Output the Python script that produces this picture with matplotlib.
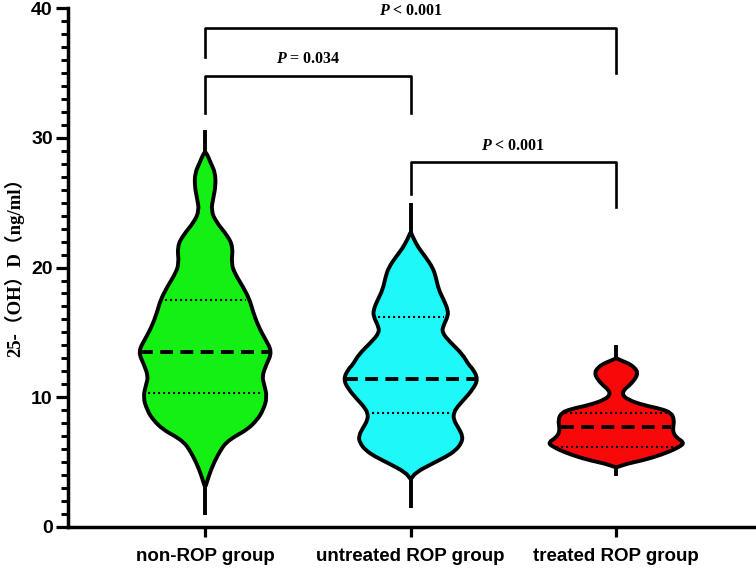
import matplotlib.pyplot as plt
from matplotlib.path import Path
from matplotlib.patches import PathPatch
from matplotlib.ticker import MultipleLocator
import numpy as np

plt.rcParams['mathtext.fontset'] = 'custom'
plt.rcParams['mathtext.rm'] = 'Liberation Serif'
plt.rcParams['mathtext.bfit'] = 'Liberation Serif:italic:bold'

groups = ['non-ROP group', 'untreated ROP group', 'treated ROP group']
colors = ['#14F014', '#1EF8F8', '#F80808']

# violin outlines: y value and half width (x units)
green_y = [3.1, 4.0, 5.0, 6.0, 6.5, 7.0, 7.5, 8.25, 9.0, 10.0, 11.0, 11.6, 12.5, 13.5,
           14.5, 15.5, 16.7, 17.5, 18.5, 19.5, 20.3, 21.6, 22.5, 23.5, 24.4, 25.3, 26.3,
           27.3, 28.0, 28.9]
green_w = [0.002, 0.019, 0.044, 0.078, 0.102, 0.146, 0.204, 0.253, 0.282, 0.302, 0.287,
           0.277, 0.297, 0.326, 0.292, 0.258, 0.231, 0.217, 0.185, 0.146, 0.127, 0.136,
           0.107, 0.054, 0.029, 0.039, 0.051, 0.049, 0.029, 0.005]
cyan_y = [3.7, 4.2, 4.9, 5.4, 5.9, 6.5, 7.0, 7.6, 8.25, 8.8, 9.3, 9.8, 10.6, 11.4, 12.2,
          12.5, 13.3, 14.2, 15.0, 15.6, 16.2, 16.7, 17.5, 18.3, 19.3, 20.0, 20.8, 21.5,
          22.2, 22.7]
cyan_w = [0.002, 0.024, 0.107, 0.170, 0.219, 0.248, 0.253, 0.234, 0.209, 0.209, 0.229,
          0.258, 0.302, 0.328, 0.302, 0.282, 0.253, 0.195, 0.151, 0.161, 0.180, 0.182,
          0.161, 0.136, 0.122, 0.107, 0.073, 0.039, 0.015, 0.002]
red_y = [4.6, 4.9, 5.2, 5.7, 6.2, 6.5, 6.9, 7.3, 7.7, 8.25, 8.8, 9.1, 9.4, 9.8, 10.2,
         10.6, 10.9, 11.4, 11.9, 12.3, 12.6, 12.8, 13.0]
red_w = [0.002, 0.058, 0.146, 0.243, 0.311, 0.331, 0.292, 0.277, 0.277, 0.282, 0.268,
         0.219, 0.131, 0.058, 0.029, 0.039, 0.063, 0.092, 0.106, 0.088, 0.061, 0.029,
         0.002]
tails = [(0.9, 30.6), (1.5, 25.0), (3.9, 14.0)]

medians = [13.5, 11.4, 7.7]
q1 = [10.3, 8.8, 6.2]
q3 = [17.5, 16.2, 8.8]

# significance brackets: (left group, right group, top, left leg end, right leg end, label)
brackets = [(0, 2, 38.45, 36.2, 35.0, r'$\mathbfit{P}$ < 0.001'),
            (0, 1, 34.8, 31.9, 31.9, r'$\mathbfit{P}$ = 0.034'),
            (1, 2, 28.1, 25.7, 24.7, r'$\mathbfit{P}$ < 0.001')]

profiles = [(green_y, green_w), (cyan_y, cyan_w), (red_y, red_w)]

fig = plt.figure(figsize=(7.56, 5.81), dpi=100)
ax = fig.add_axes([0.090, 0.093, 0.910, 0.893])

lw = 2.8
for i, (ys, ws) in enumerate(profiles):
    ys = np.array(ys)
    ws = np.array(ws)
    pts = [(i + w, y) for y, w in zip(ys, ws)] + [(i - w, y) for y, w in zip(ys[::-1], ws[::-1])]
    n = len(pts)
    start = ((pts[-1][0] + pts[0][0]) / 2, (pts[-1][1] + pts[0][1]) / 2)
    verts = [start]
    codes = [Path.MOVETO]
    for k in range(n):
        p = pts[k]
        q = pts[(k + 1) % n]
        verts += [p, ((p[0] + q[0]) / 2, (p[1] + q[1]) / 2)]
        codes += [Path.CURVE3, Path.CURVE3]
    ax.add_patch(PathPatch(Path(verts, codes), facecolor=colors[i], edgecolor='black',
                           lw=lw, joinstyle='round', zorder=2))
    ax.plot([i, i], [tails[i][0], ys[0]], color='black', lw=lw, solid_capstyle='butt', zorder=2)
    ax.plot([i, i], [ys[-1], tails[i][1]], color='black', lw=lw, solid_capstyle='butt', zorder=2)

    hw = np.interp(medians[i], ys, ws) - 0.01
    ax.plot([i - hw, i + hw], [medians[i]] * 2, color='black', lw=2.8,
            dashes=(3.3, 1.9), zorder=3)
    for q in (q1[i], q3[i]):
        hw = np.interp(q, ys, ws) - 0.02
        ax.plot([i - hw, i + hw], [q] * 2, color='black', lw=1.5,
                dashes=(1, 1.4), zorder=3)

for a, b, top, la, lb, label in brackets:
    ax.plot([a, a, b, b], [la, top, top, lb], color='black', lw=1.9, zorder=2)
    ax.text((a + b) / 2, top + 1.3, label, ha='center', va='center', fontsize=11.5,
            family='Liberation Serif', fontweight='bold')

ax.set_xlim(-0.667, 2.68)
ax.set_ylim(0, 40)
ax.set_xticks([0, 1, 2])
ax.set_xticklabels(groups, family='Liberation Sans', fontweight='bold', fontsize=13.5)
ax.set_yticks([0, 10, 20, 30, 40])
ax.set_yticklabels(['0', '10', '20', '30', '40'], family='Liberation Sans',
                   fontweight='bold', fontsize=14)
ax.yaxis.set_minor_locator(MultipleLocator(1))
ax.tick_params(axis='y', which='major', length=9, width=2.3, pad=2)
ax.tick_params(axis='y', which='minor', length=5, width=2.1)
ax.tick_params(axis='x', which='major', length=7, width=2.3, pad=8)

for s in ['top', 'right']:
    ax.spines[s].set_visible(False)
for s in ['left', 'bottom']:
    ax.spines[s].set_linewidth(2.5)

ax.set_ylabel('25-（OH）D（ng/ml）', family=['Liberation Serif', 'Noto Sans CJK SC'],
              fontweight='bold', fontsize=13.5)
ax.yaxis.set_label_coords(-0.063, 0.51)

fig.savefig('out.png', dpi=100)
